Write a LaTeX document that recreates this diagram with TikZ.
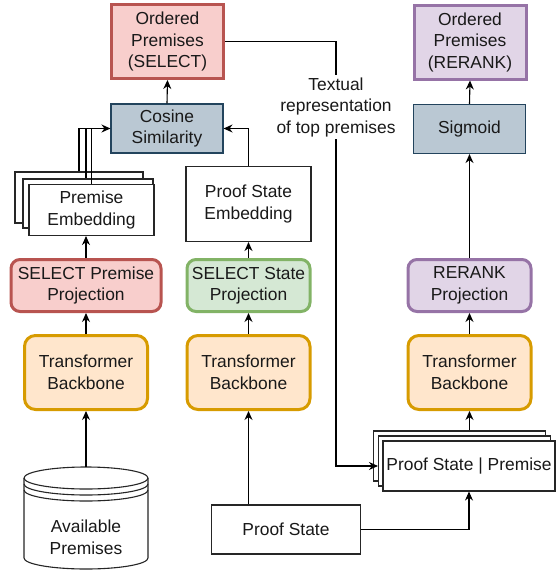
\documentclass[tikz,border=0pt]{standalone}
\definecolor{selred}{RGB}{184, 84, 80}
\definecolor{selredfill}{RGB}{248, 206, 204}
\definecolor{stategreen}{RGB}{130, 179, 102}
\definecolor{stategreenfill}{RGB}{213, 232, 212}
\definecolor{rrpurple}{RGB}{150, 115, 166}
\definecolor{rrpurplefill}{RGB}{225, 213, 231}
\definecolor{tforange}{RGB}{215, 155, 0}
\definecolor{tforangefill}{RGB}{255, 230, 204}
\definecolor{simblue}{RGB}{35, 68, 93}
\definecolor{simbluefill}{RGB}{186, 200, 211}
\usepackage{fontspec}
\setmainfont{Liberation Sans}
\usepackage{tikz}
\usetikzlibrary{arrows.meta, positioning}

\begin{document}
\begin{tikzpicture}[x=1pt, y=-1pt,
    font=\fontsize{17.4}{21.5}\selectfont,
    every node/.style={align=center, inner sep=0pt, text=black!90},
    arr/.style={-{Stealth[length=9pt, width=8pt]}, line width=1.1pt},
    plainbox/.style={draw=black!85, line width=1.1pt, fill=white},
    outbox/.style={line width=3pt, minimum width=112pt, minimum height=74pt},
    projbox/.style={line width=3pt, rounded corners=9pt, minimum height=52pt},
    backbone/.style={draw=tforange, fill=tforangefill, line width=3pt, rounded corners=11pt,
      minimum width=123pt, minimum height=74pt},
    simbox/.style={draw=simblue, fill=simbluefill, line width=1.1pt, minimum width=112pt, minimum height=49pt}]
  \useasboundingbox (0,0) rectangle (556,571);

  % Outputs
  \node[outbox, draw=selred, fill=selredfill] (selOut) at (167.5,41.5) {Ordered\\Premises\\(SELECT)};
  \node[outbox, draw=rrpurple, fill=rrpurplefill] (rrOut) at (470,42) {Ordered\\Premises\\(RERANK)};
  \node[simbox] (cosine) at (167,128.5) {Cosine\\Similarity};
  \node[simbox] (sigmoid) at (469.5,129) {Sigmoid};

  % Embeddings
  \node[plainbox, minimum width=128pt, minimum height=51pt] (premEmbC) at (79,197.5) {};
  \node[plainbox, minimum width=130pt, minimum height=49pt] (premEmbB) at (88,203.5) {};
  \node[plainbox, minimum width=125pt, minimum height=51pt] (premEmb) at (91.5,210) {Premise\\Embedding};
  \node[plainbox, minimum width=125pt, minimum height=75pt] (stateEmb) at (248.5,204) {Proof State\\Embedding};

  % Projections and backbones
  \node[projbox, draw=selred, fill=selredfill, minimum width=150pt] (selPremProj) at (86,285.5) {SELECT Premise\\Projection};
  \node[projbox, draw=stategreen, fill=stategreenfill, minimum width=123pt] (selStateProj) at (248.5,285.5) {SELECT State\\Projection};
  \node[projbox, draw=rrpurple, fill=rrpurplefill, minimum width=123pt] (rrProj) at (469.5,285.5) {RERANK\\Projection};
  \node[backbone] (backL) at (86,372.5) {Transformer\\Backbone};
  \node[backbone] (backM) at (248.5,372.5) {Transformer\\Backbone};
  \node[backbone] (backR) at (469.5,372.5) {Transformer\\Backbone};

  % Inputs
  \node[plainbox, minimum width=172pt, minimum height=50pt] (pairsC) at (459.5,456) {};
  \node[plainbox, minimum width=172pt, minimum height=50pt] (pairsB) at (464.5,461) {};
  \node[plainbox, minimum width=172pt, minimum height=50pt] (pairs) at (469,466) {Proof State | Premise};
  \node[plainbox, minimum width=149pt, minimum height=49pt] (proofState) at (286,529.5) {Proof State};
  \draw[draw=black!85, line width=1.1pt, fill=white]
    (24,478) -- (24,558) arc[start angle=180, end angle=360, x radius=62pt, y radius=11pt] -- (148,478)
    arc[start angle=0, end angle=180, x radius=62pt, y radius=11pt];
  \draw[draw=black!85, line width=1.1pt]
    (148,478) arc[start angle=360, end angle=180, x radius=62pt, y radius=11pt]
    (24,484) arc[start angle=180, end angle=360, x radius=62pt, y radius=11pt]
    (24,490) arc[start angle=180, end angle=360, x radius=62pt, y radius=11pt];
  \node[minimum width=124pt, minimum height=50pt] (db) at (86,537.5) {Available\\Premises};
  \coordinate (dbTop) at (86,467);

  % SELECT arrows
  \draw[arr] (dbTop) -- (backL.south);
  \draw[arr] (backL.north) -- (selPremProj.south);
  \draw[arr] (selPremProj.north) -- (selPremProj.north |- premEmb.south);
  \draw[line width=1.1pt] (premEmbC.north) |- (cosine.west);
  \draw[line width=1.1pt] ([xshift=-2pt]premEmbB.north) |- (cosine.west);
  \draw[arr] (premEmb.north) |- (cosine.west);
  \draw[arr] (backM.south |- proofState.north) -- (backM.south);
  \draw[arr] (backM.north) -- (selStateProj.south);
  \draw[arr] (selStateProj.north) -- (stateEmb.south);
  \draw[arr] (stateEmb.north) |- (cosine.east);
  \draw[arr] (cosine.north) -- (selOut.south);

  % RERANK arrows
  \coordinate (bend) at (336,466);
  \draw[arr] (selOut.east) -| (bend) -- (bend -| pairsB.west);
  \node[fill=white, inner sep=2pt] (txtLbl) at (336,107) {Textual\\representation\\of top premises};
  \draw[arr] (proofState.east) -| (pairs.south);
  \draw[arr] (backR.south |- pairsC.north) -- (backR.south);
  \draw[arr] (backR.north) -- (rrProj.south);
  \draw[arr] (rrProj.north) -- (sigmoid.south);
  \draw[arr] (sigmoid.north) -- (rrOut.south);
\end{tikzpicture}
\end{document}
